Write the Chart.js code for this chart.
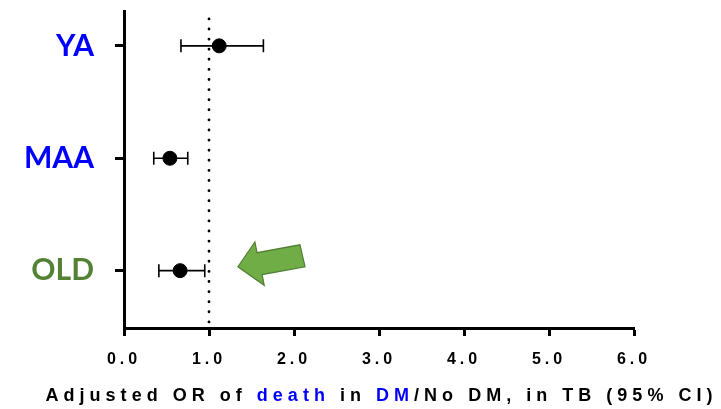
<!DOCTYPE html>
<html>
<head>
<meta charset="utf-8">
<script src="https://cdn.jsdelivr.net/npm/chart.js@4.4.1/dist/chart.umd.min.js"></script>
<style>
  html, body { margin: 0; padding: 0; background: #fff; }
  #wrap { width: 721px; height: 409px; }
</style>
</head>
<body>
<div id="wrap"><canvas id="forest" width="721" height="409"></canvas></div>
<script>
// groups, top to bottom
const groups = ["YA", "MAA", "OLD"];
const groupColors = ["#0000FF", "#0000FF", "#548235"];

// adjusted OR with 95% CI
const orValues = [1.12, 0.54, 0.66];
const ciLow = [0.67, 0.35, 0.41];
const ciHigh = [1.64, 0.75, 0.95];

const xTicks = [0, 1, 2, 3, 4, 5, 6];
const refLine = 1.0;

// arrow outline pointing at OLD, in data units (x = OR, y = row)
const arrowX = [1.34, 1.54, 1.565, 2.07, 2.13, 1.625, 1.65];
const arrowY = [2.965, 2.745, 2.84, 2.77, 2.965, 3.035, 3.13];

const titleParts = [
  ["Adjusted OR of ", "#000"],
  ["death", "#0000FF"],
  [" in ", "#000"],
  ["DM", "#0000FF"],
  ["/No DM, in TB (95% CI)", "#000"]
];

const yMin = 0.69, yMax = 3.51;

const points = orValues.map((v, i) => ({ x: v, y: i + 1 }));

const forestPlugin = {
  id: "forest",
  beforeDraw(chart) {
    chart.ctx.letterSpacing = "0px";
  },
  beforeDatasetsDraw(chart) {
    const { ctx, scales: { x, y } } = chart;
    ctx.save();
    // green arrow
    ctx.beginPath();
    arrowX.forEach((ax, i) => {
      const px = x.getPixelForValue(ax), py = y.getPixelForValue(arrowY[i]);
      if (i === 0) ctx.moveTo(px, py); else ctx.lineTo(px, py);
    });
    ctx.closePath();
    ctx.fillStyle = "#70AD47";
    ctx.fill();
    ctx.strokeStyle = "#507E32";
    ctx.lineWidth = 1.2;
    ctx.stroke();

    // error bars
    ctx.strokeStyle = "#000";
    ctx.lineWidth = 1.6;
    groups.forEach((g, i) => {
      const py = y.getPixelForValue(i + 1);
      const x0 = x.getPixelForValue(ciLow[i]);
      const x1 = x.getPixelForValue(ciHigh[i]);
      ctx.beginPath();
      ctx.moveTo(x0, py); ctx.lineTo(x1, py);
      ctx.moveTo(x0, py - 6.5); ctx.lineTo(x0, py + 6.5);
      ctx.moveTo(x1, py - 6.5); ctx.lineTo(x1, py + 6.5);
      ctx.stroke();
    });
    ctx.restore();
  },
  afterDatasetsDraw(chart) {
    // spaced-out x tick labels are drawn after datasets (ticks.z = 1)
    chart.ctx.letterSpacing = "4px";
  },
  afterDraw(chart) {
    const { ctx, chartArea } = chart;
    ctx.save();
    ctx.font = "bold 18px 'Liberation Sans', Arial, sans-serif";
    ctx.letterSpacing = "0px";
    const full = titleParts.map(p => p[0]).join("");
    const raw = ctx.measureText(full).width;
    const spacing = (672 - raw) / full.length;
    ctx.letterSpacing = spacing + "px";
    let total = 0;
    titleParts.forEach(p => { total += ctx.measureText(p[0]).width; });
    let cx = (chartArea.left + chartArea.right) / 2 - total / 2 + spacing / 2;
    ctx.textBaseline = "alphabetic";
    ctx.textAlign = "left";
    titleParts.forEach(p => {
      ctx.fillStyle = p[1];
      ctx.fillText(p[0], cx, 401);
      cx += ctx.measureText(p[0]).width;
    });
    ctx.restore();
    ctx.letterSpacing = "0px";
  }
};

new Chart(document.getElementById("forest"), {
  type: "scatter",
  data: {
    datasets: [
      {
        label: "OR",
        data: points,
        pointRadius: 7,
        pointHoverRadius: 7,
        backgroundColor: "#000",
        borderColor: "#000",
        order: 1
      },
      {
        type: "line",
        label: "ref",
        data: [{ x: refLine, y: yMin + 0.07 }, { x: refLine, y: yMax }],
        borderColor: "#000",
        borderWidth: 2.8,
        borderDash: [0.1, 10],
        borderCapStyle: "round",
        pointRadius: 0,
        fill: false,
        order: 2
      }
    ]
  },
  options: {
    responsive: false,
    animation: false,
    devicePixelRatio: 1,
    layout: { padding: { left: 0, right: 87, top: 11, bottom: 0 } },
    plugins: {
      legend: { display: false },
      tooltip: { enabled: false }
    },
    scales: {
      x: {
        type: "linear",
        min: 0,
        max: 6,
        afterBuildTicks: s => { s.ticks = xTicks.map(v => ({ value: v })); },
        afterFit: s => { s.height = 81; s.paddingLeft = 0; s.paddingRight = 0; },
        grid: {
          drawOnChartArea: false,
          drawTicks: true,
          tickLength: 8,
          tickWidth: 3,
          tickColor: "#000"
        },
        border: { color: "#000", width: 3 },
        ticks: {
          z: 1,
          padding: 14,
          color: "#000",
          font: { family: "'Liberation Sans', Arial, sans-serif", size: 16, weight: "bold" },
          callback: v => Number(v).toFixed(1),
          maxRotation: 0
        }
      },
      y: {
        type: "linear",
        reverse: true,
        min: yMin,
        max: yMax,
        afterBuildTicks: s => { s.ticks = groups.map((g, i) => ({ value: i + 1 })); },
        afterFit: s => { s.width = 124; s.paddingTop = 0; s.paddingBottom = 0; },
        grid: {
          drawOnChartArea: false,
          drawTicks: true,
          tickLength: 9,
          tickWidth: 3,
          tickColor: "#000"
        },
        border: { color: "#000", width: 3 },
        ticks: {
          padding: 21,
          color: c => groupColors[Math.round(c.tick.value) - 1] || "#000",
          font: { family: "Lato, 'Open Sans', sans-serif", size: 30, weight: "bold" },
          callback: v => groups[Math.round(v) - 1] || ""
        }
      }
    }
  },
  plugins: [forestPlugin]
});
</script>
</body>
</html>
